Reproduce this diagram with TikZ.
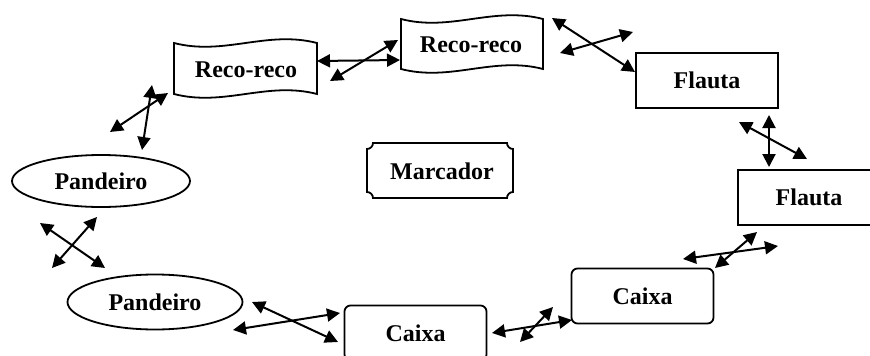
\documentclass[tikz,border=0pt]{standalone}
\usepackage{fontspec}
\setmainfont{Liberation Serif}
\usetikzlibrary{arrows.meta,shapes.geometric}
\newcommand{\tapeborder}[4]{%
  \draw[shapeline] (#1,#3) .. controls ({#1+0.35*(#2-#1)},{#3+13}) and ({#1+0.65*(#2-#1)},{#3-13}) .. (#2,#3)
    -- (#2,#4) .. controls ({#1+0.65*(#2-#1)},{#4-13}) and ({#1+0.35*(#2-#1)},{#4+13}) .. (#1,#4) -- cycle;}
\newcommand{\plaqueborder}[5]{%
  \draw[shapeline] (#1,{#3+#5}) .. controls ({#1+0.55*#5},{#3+#5}) and ({#1+#5},{#3+0.55*#5}) .. ({#1+#5},#3)
    -- ({#2-#5},#3) .. controls ({#2-#5},{#3+0.55*#5}) and ({#2-0.55*#5},{#3+#5}) .. (#2,{#3+#5})
    -- (#2,{#4-#5}) .. controls ({#2-0.55*#5},{#4-#5}) and ({#2-#5},{#4-0.55*#5}) .. ({#2-#5},#4)
    -- ({#1+#5},#4) .. controls ({#1+#5},{#4-0.55*#5}) and ({#1+0.55*#5},{#4-#5}) .. (#1,{#4-#5}) -- cycle;}
\begin{document}
\begin{tikzpicture}[x=1pt,y=-1pt,
  shapeline/.style={draw=black,line width=1.8pt},
  lbl/.style={font=\fontsize{24}{28}\selectfont\bfseries,inner sep=0pt},
  boxnode/.style={lbl,draw=black,line width=1.8pt,minimum width=142pt,minimum height=55pt},
  roundnode/.style={boxnode,rounded corners=6pt},
  ovalnode/.style={lbl,ellipse,draw=black,line width=1.8pt},
  dbl/.style={line width=2pt,{Triangle[length=13pt,width=13pt]}-{Triangle[length=13pt,width=13pt]}}]
\useasboundingbox (0,0) rectangle (870,356);
\clip (0,0) rectangle (870,356);
% tape shapes
\tapeborder{174}{317}{43}{94}
\tapeborder{401}{543}{19}{69}
\node[lbl] (recoL) at (246,70) {Reco-reco};
\node[lbl] (recoR) at (471,45) {Reco-reco};
% plaque
\plaqueborder{367}{513}{143}{198}{6}
\node[lbl] (marc) at (442,171) {Marcador};
% boxes
\node[boxnode] (flau1) at (707,80.5) {Flauta};
\node[boxnode] (flau2) at (809,197.5) {Flauta};
\node[roundnode] (caixa2) at (642.5,296) {Caixa};
\node[roundnode] (caixa1) at (415.5,333) {Caixa};
% ellipses
\node[ovalnode,minimum width=178pt,minimum height=52pt] (pand1) at (101,181) {Pandeiro};
\node[ovalnode,minimum width=175pt,minimum height=55pt] (pand2) at (155,302) {Pandeiro};
% arrow end points
\coordinate (a1) at (110,132); \coordinate (a2) at (168,93);
\coordinate (b1) at (142,150); \coordinate (b2) at (152,85);
\coordinate (c1) at (317,61);  \coordinate (c2) at (400,60);
\coordinate (d1) at (330,81);  \coordinate (d2) at (398,40);
\coordinate (e1) at (552,18);  \coordinate (e2) at (635,72);
\coordinate (f1) at (560,53);  \coordinate (f2) at (633,32);
\coordinate (g1) at (769,115); \coordinate (g2) at (769,167);
\coordinate (h1) at (739,122); \coordinate (h2) at (807,159);
\coordinate (i1) at (683,259); \coordinate (i2) at (778,246);
\coordinate (j1) at (715,268); \coordinate (j2) at (757,232);
\coordinate (k1) at (492,333); \coordinate (k2) at (572,320);
\coordinate (l1) at (520,342); \coordinate (l2) at (553,307);
\coordinate (m1) at (252,302); \coordinate (m2) at (338,342);
\coordinate (n1) at (233,330); \coordinate (n2) at (340,313);
\coordinate (o1) at (40,223);  \coordinate (o2) at (105,268);
\coordinate (p1) at (52,268);  \coordinate (p2) at (97,217);
\foreach \s in {a,b,c,d,e,f,g,h,i,j,k,l,m,n,o,p}{\draw[dbl] (\s1) -- (\s2);}
\end{tikzpicture}
\end{document}
